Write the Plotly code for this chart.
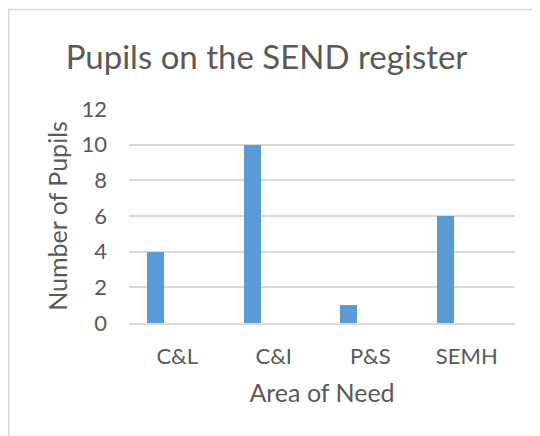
import plotly.graph_objects as go

categories = ["C&L", "C&I", "P&S", "SEMH"]
pupils = [4, 10, 1, 6]
y_ticks = [0, 2, 4, 6, 8, 10, 12]

FONT = "Lato"
TXT = "#595959"
OFF = 8  # page body margin offset

L, T, PW, PH = 129 - OFF, 109 - OFF, 386, 214

fig = go.Figure()
fig.add_trace(go.Bar(
    x=categories, y=pupils,
    width=0.176, offset=-0.31,
    marker=dict(color="#5b9bd5", line=dict(width=0)),
    showlegend=False,
))

fig.update_layout(
    width=540, height=436,
    margin=dict(l=L, r=540 - L - PW, t=T, b=436 - T - PH),
    paper_bgcolor="white", plot_bgcolor="white",
    font=dict(family=FONT, color=TXT),
    title=dict(text="Pupils on the SEND register", x=(266.5 - OFF) / 540, xanchor="center",
               y=1 - (57 - OFF) / 436, yanchor="middle",
               font=dict(size=33, color=TXT, family=FONT)),
    bargap=0,
    shapes=[dict(type="rect", xref="paper", yref="paper",
                 x0=(0.75 - L) / PW, x1=1.5, y0=-1.0, y1=(T + PH - 1.5) / PH,
                 line=dict(color="#d9d9d9", width=1.5), fillcolor="rgba(0,0,0,0)",
                 layer="below")],
)

fig.update_xaxes(
    type="category", showgrid=False, showline=True, linecolor="#d9d9d9", linewidth=1.5,
    ticks="", tickfont=dict(size=22, color=TXT), ticklabelstandoff=13,
    title=dict(text="Area of Need", font=dict(size=25, color=TXT), standoff=16),
)
fig.update_yaxes(
    range=[0, 12], tickvals=y_ticks, showgrid=True, gridcolor="#d9d9d9", gridwidth=1.5,
    zeroline=False, showline=False, ticks="", tickfont=dict(size=22, color=TXT),
    ticklabelstandoff=21,
    title=dict(text="Number of Pupils", font=dict(size=25, color=TXT), standoff=6),
)

fig.write_html("out.html")
